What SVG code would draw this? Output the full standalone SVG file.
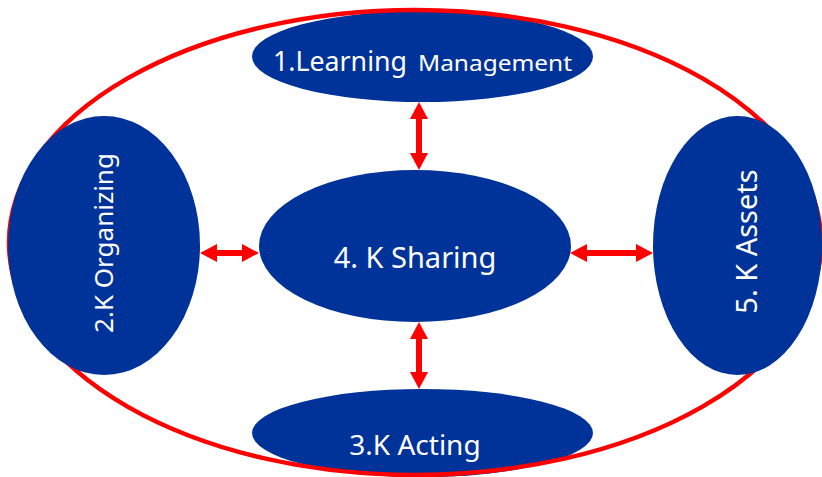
<svg xmlns="http://www.w3.org/2000/svg" width="822" height="477" viewBox="0 0 822 477">
<style>
.node{fill:#003399}
.lbl{fill:#ffffff;font-family:"Noto Sans","Open Sans","DejaVu Sans",sans-serif}
.frame{fill:none;stroke:#ff0000;stroke-width:4.5}
.conn{stroke:#ff0000;stroke-width:6;fill:none;marker-start:url(#ah);marker-end:url(#ah)}
</style>
<defs>
<marker id="ah" viewBox="0 0 17 18" markerWidth="17" markerHeight="18" refX="7" refY="9" orient="auto-start-reverse" markerUnits="userSpaceOnUse">
<path d="M0,0 L17,9 L0,18 Z" fill="#ff0000"/>
</marker>
</defs>
<rect width="822" height="477" fill="#ffffff"/>
<g id="node1">
<ellipse class="node" cx="422.5" cy="56.5" rx="170.5" ry="45.5"/>
<text class="lbl" x="273" y="71" font-size="27" textLength="134" lengthAdjust="spacingAndGlyphs">1.Learning</text>
<text class="lbl" x="418" y="71" font-size="22.5" textLength="154" lengthAdjust="spacingAndGlyphs">Management</text>
</g>
<g id="node3">
<ellipse class="node" cx="422.5" cy="433" rx="170.5" ry="44"/>
<text class="lbl" x="415" y="455" font-size="28" text-anchor="middle">3.K Acting</text>
</g>
<ellipse id="frame" class="frame" cx="415" cy="242.5" rx="406" ry="232.5"/>
<g id="node2">
<ellipse class="node" cx="104" cy="245.5" rx="96" ry="129.5"/>
<text class="lbl" transform="translate(113,243) rotate(-90)" x="0" y="0" font-size="26" text-anchor="middle">2.K Organizing</text>
</g>
<g id="node5">
<ellipse class="node" cx="737.5" cy="245.5" rx="84.5" ry="129.5"/>
<text class="lbl" transform="translate(757,241.5) rotate(-90)" x="0" y="0" font-size="29" text-anchor="middle">5. K Assets</text>
</g>
<g id="node4">
<ellipse class="node" cx="415" cy="246" rx="156" ry="76"/>
<text class="lbl" x="415" y="268" font-size="29" text-anchor="middle">4. K Sharing</text>
</g>
<g id="connectors">
<line class="conn" x1="419" y1="112" x2="419" y2="160"/>
<line class="conn" x1="419" y1="332" x2="419" y2="379"/>
<line class="conn" x1="210" y1="253" x2="249" y2="253"/>
<line class="conn" x1="580" y1="253" x2="643" y2="253"/>
</g>
</svg>
